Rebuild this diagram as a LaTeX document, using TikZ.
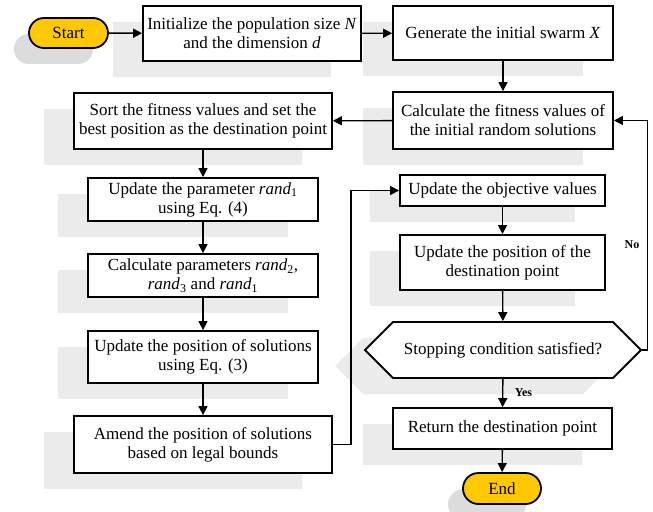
\documentclass[tikz,border=0pt]{standalone}
\usepackage{fontspec}
\setmainfont{Liberation Serif}
\usetikzlibrary{arrows.meta,shapes.misc,shapes.symbols,shadows}
\definecolor{shadowgray}{HTML}{EBEBEB}
\definecolor{termshadow}{HTML}{DCDCDC}
\definecolor{gold}{HTML}{FFC800}
\newcommand{\rnd}[1]{\textit{rand}\textsubscript{#1}}
\tikzset{
  procbox/.style={draw, line width=1.8bp, fill=white, rectangle, inner sep=2bp,
    align=center, font=\fontsize{17bp}{19bp}\selectfont,
    drop shadow={shadow xshift=-30bp, shadow yshift=-16bp, fill=shadowgray, opacity=1}},
  termbox/.style={draw, line width=1.8bp, fill=gold, rounded rectangle, inner sep=2bp,
    font=\fontsize{17bp}{19bp}\selectfont,
    drop shadow={shadow xshift=-15bp, shadow yshift=-16bp, fill=termshadow, opacity=1}},
  decbox/.style={draw, line width=1.8bp, fill=white, signal, signal to=west and east,
    signal pointer angle=90, inner sep=2bp, font=\fontsize{17bp}{19bp}\selectfont,
    drop shadow={shadow xshift=-30bp, shadow yshift=-16bp, fill=shadowgray, opacity=1}},
  arr/.style={line width=1.4bp, -{Triangle[length=9bp,width=9bp]}},
  lbl/.style={font=\fontsize{12bp}{14bp}\selectfont\bfseries}
}
\begin{document}
\begin{tikzpicture}[x=1bp,y=-1bp]
\useasboundingbox (0,0) rectangle (653,512);
\node[termbox, minimum width=83bp, minimum height=30bp] (start) at (68.5,33) {Start};
\node[procbox, minimum width=218bp, minimum height=55bp] (init) at (252,33.5) {Initialize the population size \textit{N}\\and the dimension \textit{d}};
\node[procbox, minimum width=220bp, minimum height=54bp] (gen) at (503,33) {Generate the initial swarm \textit{X}};
\node[procbox, minimum width=220bp, minimum height=57bp] (calc) at (503,120.5) {Calculate the fitness values of\\the initial random solutions};
\node[procbox, minimum width=258bp, minimum height=56bp] (sort) at (203,121) {Sort the fitness values and set the\\best position as the destination point};
\node[procbox, minimum width=230bp, minimum height=43bp] (r1) at (203,199.5) {Update the parameter \rnd{1}\\using Eq. (4)};
\node[procbox, minimum width=230bp, minimum height=43bp] (par) at (203,275.5) {Calculate parameters \rnd{2},\\\rnd{3} and \rnd{1}};
\node[procbox, minimum width=230bp, minimum height=52bp] (upd) at (203,357) {Update the position of solutions\\using Eq. (3)};
\node[procbox, minimum width=258bp, minimum height=57bp] (amend) at (203,444.5) {Amend the position of solutions\\based on legal bounds};
\node[procbox, minimum width=205bp, minimum height=31bp] (obj) at (502.5,190.5) {Update the objective values};
\node[procbox, minimum width=205bp, minimum height=55bp] (dest) at (502.5,262.5) {Update the position of the\\destination point};
\node[decbox, minimum width=276bp, minimum height=56bp] (stop) at (503,350) {Stopping condition satisfied?};
\node[procbox, minimum width=219bp, minimum height=41bp] (ret) at (502.5,428.5) {Return the destination point};
\node[termbox, minimum width=82bp, minimum height=31bp] (end) at (502,488.5) {End};

\draw[arr] (start) -- (init);
\draw[arr] (init) -- (gen);
\draw[arr] (gen) -- (calc);
\draw[arr] (calc) -- (sort);
\draw[arr] (sort) -- (r1);
\draw[arr] (r1) -- (par);
\draw[arr] (par) -- (upd);
\draw[arr] (upd) -- (amend);
\draw[arr] (amend.east) -- ++(18,0) |- (obj.west);
\draw[arr] (obj) -- (dest);
\draw[arr] (dest) -- (stop);
\draw[arr] (stop) -- node[lbl, right=8bp, pos=0.5] {Yes} (ret);
\draw[arr] (ret) -- (end);
\draw[arr] (stop.east) -- ++(5,0) |- node[lbl, pos=0.23, left=4bp] {No} (calc.east);
\end{tikzpicture}
\end{document}
